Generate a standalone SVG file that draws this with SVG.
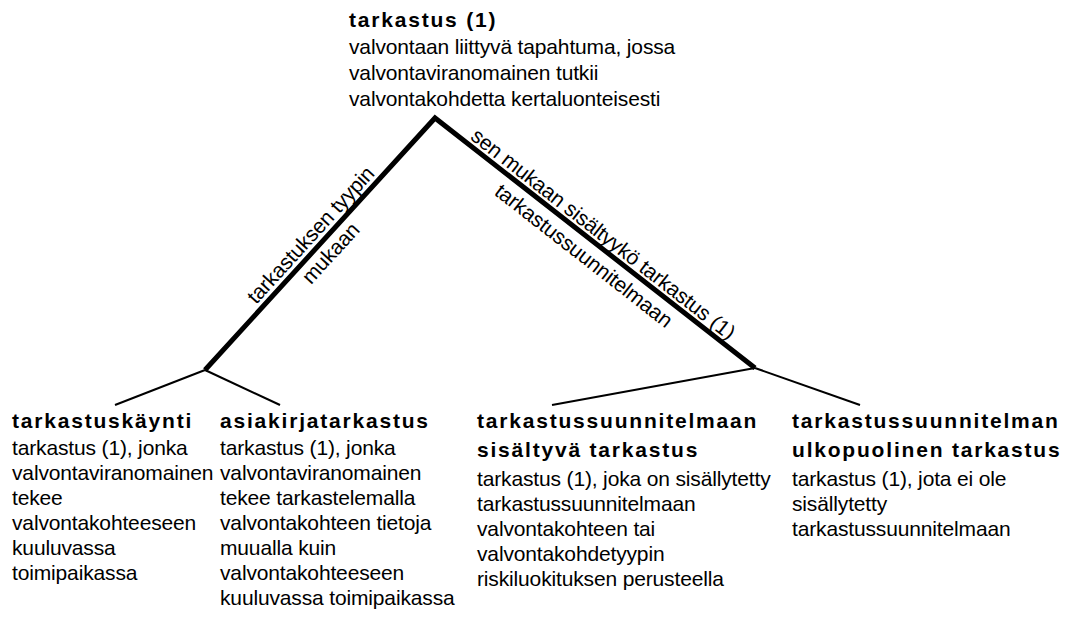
<svg xmlns="http://www.w3.org/2000/svg" width="1070" height="621" viewBox="0 0 1070 621">
<style>
text{font-family:"Liberation Sans",Arial,sans-serif;font-size:21px;fill:#000;letter-spacing:-0.15px}
.b{font-weight:bold;letter-spacing:1.8px}
.thick{stroke:#000;stroke-width:5;fill:none;stroke-linejoin:miter}
.thin{stroke:#000;stroke-width:2;fill:none}
</style>
<rect width="1070" height="621" fill="#fff"/>
<g id="connectors">
<polyline class="thick" points="205,370 435,118 755,368"/>
<line class="thin" x1="205" y1="370" x2="115" y2="405"/>
<line class="thin" x1="205" y1="370" x2="280" y2="405"/>
<line class="thin" x1="755" y1="368" x2="552" y2="405"/>
<line class="thin" x1="755" y1="368" x2="860" y2="405"/>
<g transform="translate(205,370) rotate(-47.6)" text-anchor="middle">
<text x="171" y="-6">tarkastuksen tyypin</text>
<text x="171" y="21">mukaan</text>
</g>
<g transform="translate(435,118) rotate(38)" text-anchor="middle">
<text x="204" y="-5">sen mukaan sisältyykö tarkastus (1)</text>
<text x="202" y="24">tarkastussuunnitelmaan</text>
</g>
</g>
<g id="n-tarkastus">
<text class="b" x="349" y="27">tarkastus (1)</text>
<text x="349" y="54">valvontaan liittyvä tapahtuma, jossa</text>
<text x="349" y="80">valvontaviranomainen tutkii</text>
<text x="349" y="106">valvontakohdetta kertaluonteisesti</text>
</g>
<g id="n-tarkastuskaynti">
<text class="b" x="12" y="428">tarkastuskäynti</text>
<text x="12" y="455">tarkastus (1), jonka</text>
<text x="12" y="480">valvontaviranomainen</text>
<text x="12" y="505">tekee</text>
<text x="12" y="530">valvontakohteeseen</text>
<text x="12" y="555">kuuluvassa</text>
<text x="12" y="580">toimipaikassa</text>
</g>
<g id="n-asiakirjatarkastus">
<text class="b" x="220" y="428">asiakirjatarkastus</text>
<text x="220" y="455">tarkastus (1), jonka</text>
<text x="220" y="480">valvontaviranomainen</text>
<text x="220" y="505">tekee tarkastelemalla</text>
<text x="220" y="530">valvontakohteen tietoja</text>
<text x="220" y="555">muualla kuin</text>
<text x="220" y="580">valvontakohteeseen</text>
<text x="220" y="605">kuuluvassa toimipaikassa</text>
</g>
<g id="n-sisaltyva">
<text class="b" x="477" y="428">tarkastussuunnitelmaan</text>
<text class="b" x="477" y="457">sisältyvä tarkastus</text>
<text x="477" y="486">tarkastus (1), joka on sisällytetty</text>
<text x="477" y="511">tarkastussuunnitelmaan</text>
<text x="477" y="536">valvontakohteen tai</text>
<text x="477" y="561">valvontakohdetyypin</text>
<text x="477" y="586">riskiluokituksen perusteella</text>
</g>
<g id="n-ulkopuolinen">
<text class="b" x="792" y="428">tarkastussuunnitelman</text>
<text class="b" x="792" y="457">ulkopuolinen tarkastus</text>
<text x="792" y="486">tarkastus (1), jota ei ole</text>
<text x="792" y="511">sisällytetty</text>
<text x="792" y="536">tarkastussuunnitelmaan</text>
</g>
</svg>
